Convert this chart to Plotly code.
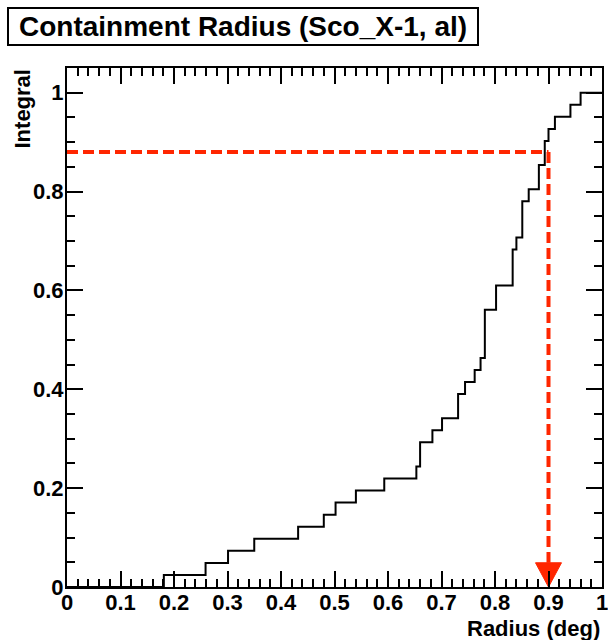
import plotly.graph_objects as go

# ---- data ----
radius_edges = [0.0, 0.181, 0.259, 0.301, 0.350, 0.432, 0.480, 0.502, 0.540, 0.593,
                0.653, 0.660, 0.683, 0.701, 0.731, 0.744, 0.762, 0.773, 0.781, 0.802,
                0.833, 0.840, 0.851, 0.863, 0.882, 0.893, 0.900, 0.912, 0.941, 0.960, 1.0]
cum_counts = [0, 1, 2, 3, 4, 5, 6, 7, 8, 9,
              10, 12, 13, 14, 16, 17, 18, 19, 23, 25,
              28, 29, 32, 33, 35, 37, 38, 39, 40, 41, 41]
n_total = 41
containment_radius = 0.9
containment_level = 0.88

x_ticks = [0, 0.1, 0.2, 0.3, 0.4, 0.5, 0.6, 0.7, 0.8, 0.9, 1]
x_tick_text = ["0", "0.1", "0.2", "0.3", "0.4", "0.5", "0.6", "0.7", "0.8", "0.9", "1"]
y_ticks = [0, 0.2, 0.4, 0.6, 0.8, 1]
y_tick_text = ["0", "0.2", "0.4", "0.6", "0.8", "1"]

integral = [c / n_total for c in cum_counts]

RED = "#ff2600"
FONT = "Liberation Sans"
arrow_half_w = 0.0243   # arrow head half width (x units)
arrow_h = 0.049         # arrow head height (y units)

fig = go.Figure()

fig.add_trace(go.Scatter(
    x=radius_edges, y=integral, mode="lines", line_shape="hv",
    line=dict(color="black", width=2), hoverinfo="skip", showlegend=False))

# containment marker lines
fig.add_trace(go.Scatter(
    x=[0, containment_radius], y=[containment_level, containment_level],
    mode="lines", line=dict(color=RED, width=4, dash="11px,5px"),
    hoverinfo="skip", showlegend=False))
fig.add_trace(go.Scatter(
    x=[containment_radius, containment_radius], y=[containment_level, arrow_h],
    mode="lines", line=dict(color=RED, width=4, dash="11px,5px"),
    hoverinfo="skip", showlegend=False))
fig.add_trace(go.Scatter(
    x=[containment_radius - arrow_half_w, containment_radius + arrow_half_w,
       containment_radius, containment_radius - arrow_half_w],
    y=[arrow_h, arrow_h, 0, arrow_h],
    mode="lines", fill="toself", fillcolor=RED, line=dict(color=RED, width=1),
    hoverinfo="skip", showlegend=False))

axis_common = dict(
    showline=True, linecolor="black", linewidth=2, mirror="ticks",
    ticks="inside", ticklen=16, tickwidth=2, tickcolor="black",
    showgrid=False, zeroline=False, automargin=False, ticklabeloverflow="allow",
    tickfont=dict(family=FONT, size=22, color="black", weight="bold"),
)

fig.update_xaxes(range=[0, 1], tickvals=x_ticks, ticktext=x_tick_text,
                 ticklabelstandoff=-5,
                 minor=dict(dtick=0.02, ticks="inside", ticklen=8, tickwidth=2,
                            tickcolor="black", showgrid=False),
                 **axis_common)
fig.update_yaxes(range=[0, 1.05], tickvals=y_ticks, ticktext=y_tick_text,
                 ticklabelstandoff=-3,
                 minor=dict(dtick=0.05, ticks="inside", ticklen=8, tickwidth=2,
                            tickcolor="black", showgrid=False),
                 **axis_common)

L, R, T, B = 67, 6, 68, 53
W, H = 608, 640
pw, ph = W - L - R, H - T - B

def px_x(p):
    return (p - L) / pw

def px_y(p):
    return 1 - (p - T) / ph

fig.add_shape(type="rect", xref="paper", yref="paper",
              x0=px_x(8), x1=px_x(478), y0=px_y(45), y1=px_y(8),
              line=dict(color="black", width=2), fillcolor="white", layer="above")

fig.add_annotation(text="Containment Radius (Sco_X-1, al)", xref="paper", yref="paper",
                   x=px_x(243), y=px_y(27), xanchor="center", yanchor="middle",
                   showarrow=False,
                   font=dict(family=FONT, size=28, color="black", weight="bold"))
fig.add_annotation(text="Radius (deg)", xref="paper", yref="paper",
                   x=1, y=px_y(628), xanchor="right", yanchor="middle",
                   showarrow=False,
                   font=dict(family=FONT, size=22, color="black", weight="bold"))
fig.add_annotation(text="Integral", xref="paper", yref="paper",
                   x=px_x(22), y=1, xanchor="center", yanchor="top", textangle=-90,
                   showarrow=False,
                   font=dict(family=FONT, size=22, color="black", weight="bold"))

fig.update_layout(width=W, height=H, margin=dict(l=L, r=R, t=T, b=B),
                  plot_bgcolor="white", paper_bgcolor="white", showlegend=False)

fig.write_html("out.html")
